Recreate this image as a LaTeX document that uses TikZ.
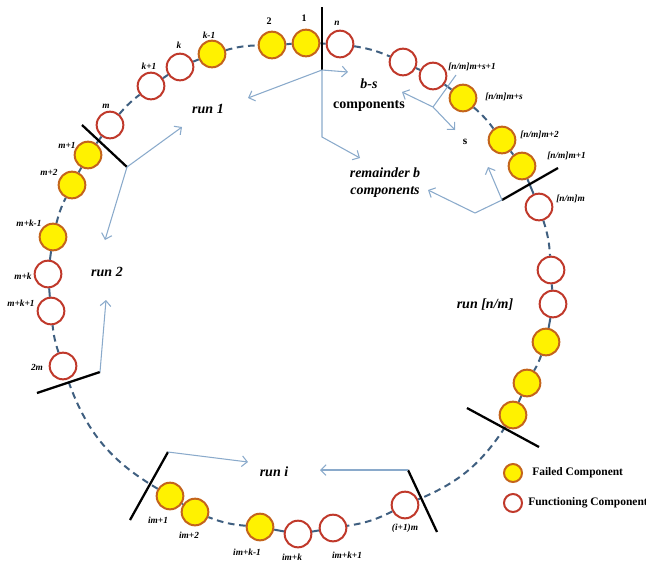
\documentclass[tikz,border=0pt]{standalone}
\usepackage{fontspec}
\setmainfont{Liberation Serif}
\usetikzlibrary{arrows.meta}
\definecolor{failfill}{HTML}{FFF200}
\definecolor{failedge}{HTML}{C4641C}
\definecolor{funcedge}{HTML}{C0392B}
\definecolor{ringcol}{HTML}{3F5F80}
\definecolor{arrcol}{HTML}{8AAACB}
\begin{document}
\begin{tikzpicture}[x=0.75pt,y=0.75pt,
  fail/.style={circle,draw=failedge,fill=failfill,line width=1.5pt,minimum size=20pt,inner sep=0pt},
  func/.style={circle,draw=funcedge,fill=white,line width=1.5pt,minimum size=20pt,inner sep=0pt},
  lfail/.style={fail,minimum size=13.5pt},
  lfunc/.style={func,minimum size=13.5pt},
  ring/.style={draw=ringcol,line width=1.5pt},
  dashring/.style={ring,dash pattern=on 5pt off 3.5pt},
  sep/.style={draw=black,line width=1.7pt},
  arrline/.style={draw=arrcol,line width=0.8pt},
  arr/.style={arrline,-{Straight Barb[length=4pt,width=8pt]}},
  lab/.style={font=\fontsize{7}{8}\selectfont\bfseries\itshape,inner sep=0pt},
  labu/.style={font=\fontsize{7.5}{8}\selectfont\bfseries,inner sep=0pt},
  runlab/.style={font=\fontsize{10.5}{12}\selectfont\bfseries\itshape,inner sep=0pt},
  leg/.style={font=\fontsize{8.6}{10}\selectfont\bfseries,inner sep=0pt,anchor=west}
]
\useasboundingbox (0,0) rectangle (646,-562);

% components
\node[fail] (n1) at (306,-43) {};
\node[fail] (n2) at (272,-45) {};
\node[func] (nn) at (340,-44) {};
\node[func] (r1) at (403,-62) {};
\node[func] (r2) at (433,-76) {};
\node[fail] (r3) at (463,-98) {};
\node[fail] (r4) at (502,-140) {};
\node[fail] (r5) at (522,-166) {};
\node[func] (r6) at (539,-207) {};
\node[func] (r7) at (551,-270) {};
\node[func] (r8) at (553,-304) {};
\node[fail] (r9) at (546,-342) {};
\node[fail] (r10) at (527,-383) {};
\node[fail] (r11) at (513,-415) {};
\node[func] (b1) at (405,-505) {};
\node[func] (b2) at (333,-528) {};
\node[func] (b3) at (298,-534) {};
\node[fail] (b4) at (260,-527) {};
\node[fail] (b5) at (195,-512) {};
\node[fail] (b6) at (170,-496) {};
\node[func] (l1) at (63,-366) {};
\node[func] (l2) at (51,-311) {};
\node[func] (l3) at (48,-274) {};
\node[fail] (l4) at (53,-237) {};
\node[fail] (l5) at (72,-185) {};
\node[fail] (l6) at (88,-155) {};
\node[func] (l7) at (110,-125) {};
\node[func] (t1) at (151,-86) {};
\node[func] (t2) at (180,-67) {};
\node[fail] (t3) at (212,-54) {};

% ring: solid links
\draw[ring] (n2) -- (n1) -- (nn);
\draw[ring] (r1) -- (r2) -- (r3);
\draw[ring] (r4) -- (r5) -- (r6);
\draw[ring] (r7) -- (r8) -- (r9);
\draw[ring] (r10) -- (r11);
\draw[ring] (b2) -- (b3) -- (b4);
\draw[ring] (b5) -- (b6);
\draw[ring] (l2) -- (l3) -- (l4);
\draw[ring] (l5) -- (l6) -- (l7);
\draw[ring] (t1) -- (t2) -- (t3);
% ring: dashed gaps
\draw[dashring] (nn) to[bend left=7] (r1);
\draw[dashring] (r3) to[bend left=6] (r4);
\draw[dashring] (r6) to[bend left=7] (r7);
\draw[dashring] (r9) to[bend left=5] (r10);
\draw[dashring] (r11) to[bend left=17] (b1);
\draw[dashring] (b1) to[bend left=9] (b2);
\draw[dashring] (b4) to[bend left=8] (b5);
\draw[dashring] (b6) to[bend left=20] (l1);
\draw[dashring] (l1) to[bend left=6] (l2);
\draw[dashring] (l4) to[bend left=6] (l5);
\draw[dashring] (l7) to[bend left=6] (t1);
\draw[dashring] (t3) to[bend left=7] (n2);

% separators and arrows
\coordinate (sa1) at (322,-7);
\coordinate (sa2) at (322,-70);
\draw[sep] (sa1) -- (sa2);
\coordinate (tipr1) at (248,-98);
\coordinate (tipbs) at (348,-72);
\coordinate (knee1) at (322,-137);
\coordinate (tiprem) at (360,-158);
\draw[arr] (sa2) -- (tipr1);
\draw[arr] (sa2) -- (tipbs);
\draw[arr] (sa2) -- (knee1) -- (tiprem);

\coordinate (bra) at (456,-75);
\coordinate (brb) at (433,-107);
\coordinate (tipbs2) at (402,-92);
\coordinate (tips) at (455,-130);
\draw[arrline] (bra) -- (brb);
\draw[arr] (brb) -- (tipbs2);
\draw[arr] (brb) -- (tips);

\coordinate (sb1) at (502,-200);
\coordinate (sb2) at (558,-168);
\draw[sep] (sb1) -- (sb2);
\coordinate (tips2) at (488,-167);
\coordinate (knee2) at (475,-213);
\coordinate (tiprem2) at (428,-190);
\draw[arr] (sb1) -- (tips2);
\draw[arr] (sb1) -- (knee2) -- (tiprem2);

\coordinate (sc1) at (82,-125);
\coordinate (sc2) at (127,-167);
\draw[sep] (sc1) -- (sc2);
\coordinate (tipr1b) at (182,-127);
\coordinate (tipr2a) at (105,-240);
\draw[arr] (sc2) -- (tipr1b);
\draw[arr] (sc2) -- (tipr2a);

\coordinate (sd1) at (37,-393);
\coordinate (sd2) at (100,-372);
\draw[sep] (sd1) -- (sd2);
\coordinate (tipr2b) at (106,-300);
\draw[arr] (sd2) -- (tipr2b);

\coordinate (se1) at (168,-452);
\coordinate (se2) at (130,-520);
\draw[sep] (se1) -- (se2);
\coordinate (tipria) at (248,-462);
\draw[arr] (se1) -- (tipria);

\coordinate (sf1) at (408,-470);
\coordinate (sf2) at (437,-532);
\draw[sep] (sf1) -- (sf2);
\coordinate (tiprib) at (320,-470);
\draw[arr] (sf1) -- (tiprib);

\coordinate (sg1) at (467,-408);
\coordinate (sg2) at (539,-447);
\draw[sep] (sg1) -- (sg2);

% component labels
\node[labu] (x1) at (304,-18) {1};
\node[labu] (x2) at (269,-21) {2};
\node[lab] (xn) at (337,-23) {n};
\node[lab] (xk1) at (209,-35) {k-1};
\node[lab] (xk) at (179,-45) {k};
\node[lab] (xkp) at (149,-66) {k+1};
\node[lab] (xm) at (106,-106) {m};
\node[lab] (xm1) at (67,-145) {m+1};
\node[lab] (xm2) at (49,-172) {m+2};
\node[lab] (xmk1) at (29,-223) {m+k-1};
\node[lab] (xmk) at (23,-276) {m+k};
\node[lab] (xmkp) at (21,-303) {m+k+1};
\node[lab] (x2m) at (37,-367) {2m};
\node[lab] (xim1) at (158,-520) {im+1};
\node[lab] (xim2) at (189,-535) {im+2};
\node[lab] (ximk1) at (247,-552) {im+k-1};
\node[lab] (ximk) at (292,-557) {im+k};
\node[lab] (ximkp) at (347,-555) {im+k+1};
\node[lab] (xi1m) at (405,-528) {(i+1)m};
\node[lab,anchor=west] (xr2) at (448,-67) {[n/m]m+s+1};
\node[lab,anchor=west] (xr3) at (485,-97) {[n/m]m+s};
\node[lab,anchor=west] (xr4) at (520,-135) {[n/m]m+2};
\node[lab,anchor=west] (xr5) at (547,-156) {[n/m]m+1};
\node[lab,anchor=west] (xr6) at (556,-199) {[n/m]m};

% run labels
\node[runlab] (run1) at (208,-109) {run 1};
\node[runlab] (run2) at (107,-272) {run 2};
\node[runlab] (runi) at (274,-472) {run i};
\node[runlab] (runn) at (485,-305) {run [n/m]};
\node[font=\fontsize{10.5}{15.5}\selectfont\bfseries,align=center,inner sep=0pt] (bs) at (369,-95) {\itshape b-s\\components};
\node[font=\fontsize{8.5}{10}\selectfont\bfseries,inner sep=0pt] (slab) at (465,-142) {s};
\node[font=\fontsize{10.5}{12.8}\selectfont\bfseries\itshape,align=center,inner sep=0pt] (rem) at (385,-183) {remainder b\\components};

% legend
\node[lfail] (legf) at (513,-473) {};
\node[lfunc] (legw) at (513,-503) {};
\node[leg] (legft) at (532,-473) {Failed Component};
\node[leg] (legwt) at (528,-503) {Functioning Component};
\end{tikzpicture}
\end{document}
